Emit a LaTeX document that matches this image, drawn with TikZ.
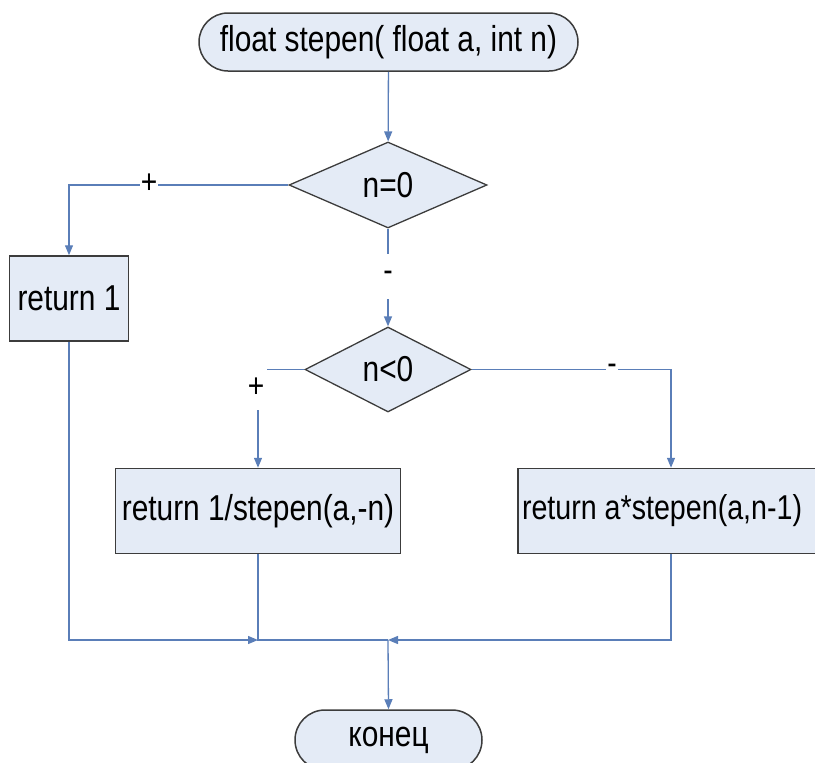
\documentclass[tikz,border=0pt]{standalone}
\usepackage{fontspec}
\setmainfont{Liberation Sans}[FakeStretch=0.83]
\usetikzlibrary{shapes.geometric,shapes.misc,arrows.meta}
\definecolor{boxfill}{HTML}{E4EBF6}
\definecolor{boxline}{HTML}{3C3C3C}
\definecolor{flow}{HTML}{5A7EB8}
\begin{document}
\begin{tikzpicture}[x=1pt,y=-1pt,
  every node/.style={font=\fontsize{36}{40}\selectfont, text=black},
  term/.style={rounded rectangle, draw=boxline, fill=boxfill, line width=1.5pt, inner sep=0pt, minimum height=58pt},
  proc/.style={rectangle, draw=boxline, fill=boxfill, line width=1.5pt, inner sep=0pt, minimum height=85pt},
  dec/.style={diamond, draw=boxline, fill=boxfill, line width=1.3pt, inner sep=0pt},
  flowline/.style={draw=flow, line width=1.3pt},
  arr/.style={flowline, -{Triangle[length=10pt,width=8pt]}},
  lbl/.style={fill=white, inner sep=1pt, font=\fontsize{34}{36}\selectfont}]
\useasboundingbox (0,0) rectangle (815,763);

\node[term, minimum width=379pt] (start) at (388.5,42) {float stepen( float a, int n)};
\node[dec, minimum width=198pt, minimum height=86pt] (d1) at (388,185) {n=0};
\node[proc, minimum width=119pt] (r1) at (69,298.5) {return 1};
\node[dec, minimum width=166pt, minimum height=85pt] (d2) at (388,369.5) {n<0};
\node[proc, minimum width=285pt] (r2) at (258,511) {return 1/stepen(a,-n)};
\node[proc, minimum width=306pt] (r3) at (671,511) {\makebox[306pt][l]{\hspace{4pt}\fontsize{34.5}{40}\selectfont return a*stepen(a,n-1)}};
\node[term, minimum width=187pt, minimum height=60pt] (end) at (388.5,740) {конец};

\coordinate (j1) at (258,640);
\coordinate (j2) at (388,640);

\draw[arr] (start) -- (d1);
\draw[arr] (d1.west) -| (r1.north);
\node[lbl] (l1) at (149,184) {+};
\draw[arr] (d1.south) -- (d2.north);
\node[lbl, minimum height=45pt, minimum width=16pt] (l2) at (388,276) {-};
\draw[arr] (d2.west) -| (r2.north);
\node[lbl, minimum height=44pt, minimum width=22pt] (l3) at (256,388) {+};
\draw[arr] (d2.east) -| (r3.north);
\node[lbl] (l4) at (612,369) {-};

\draw[arr] (r1.south) |- (j1);
\draw[flowline] (r2.south) -- (j1) -- (j2);
\draw[arr] (r3.south) |- (j2);
\draw[arr] (j2) -- (end.north);
\end{tikzpicture}
\end{document}
